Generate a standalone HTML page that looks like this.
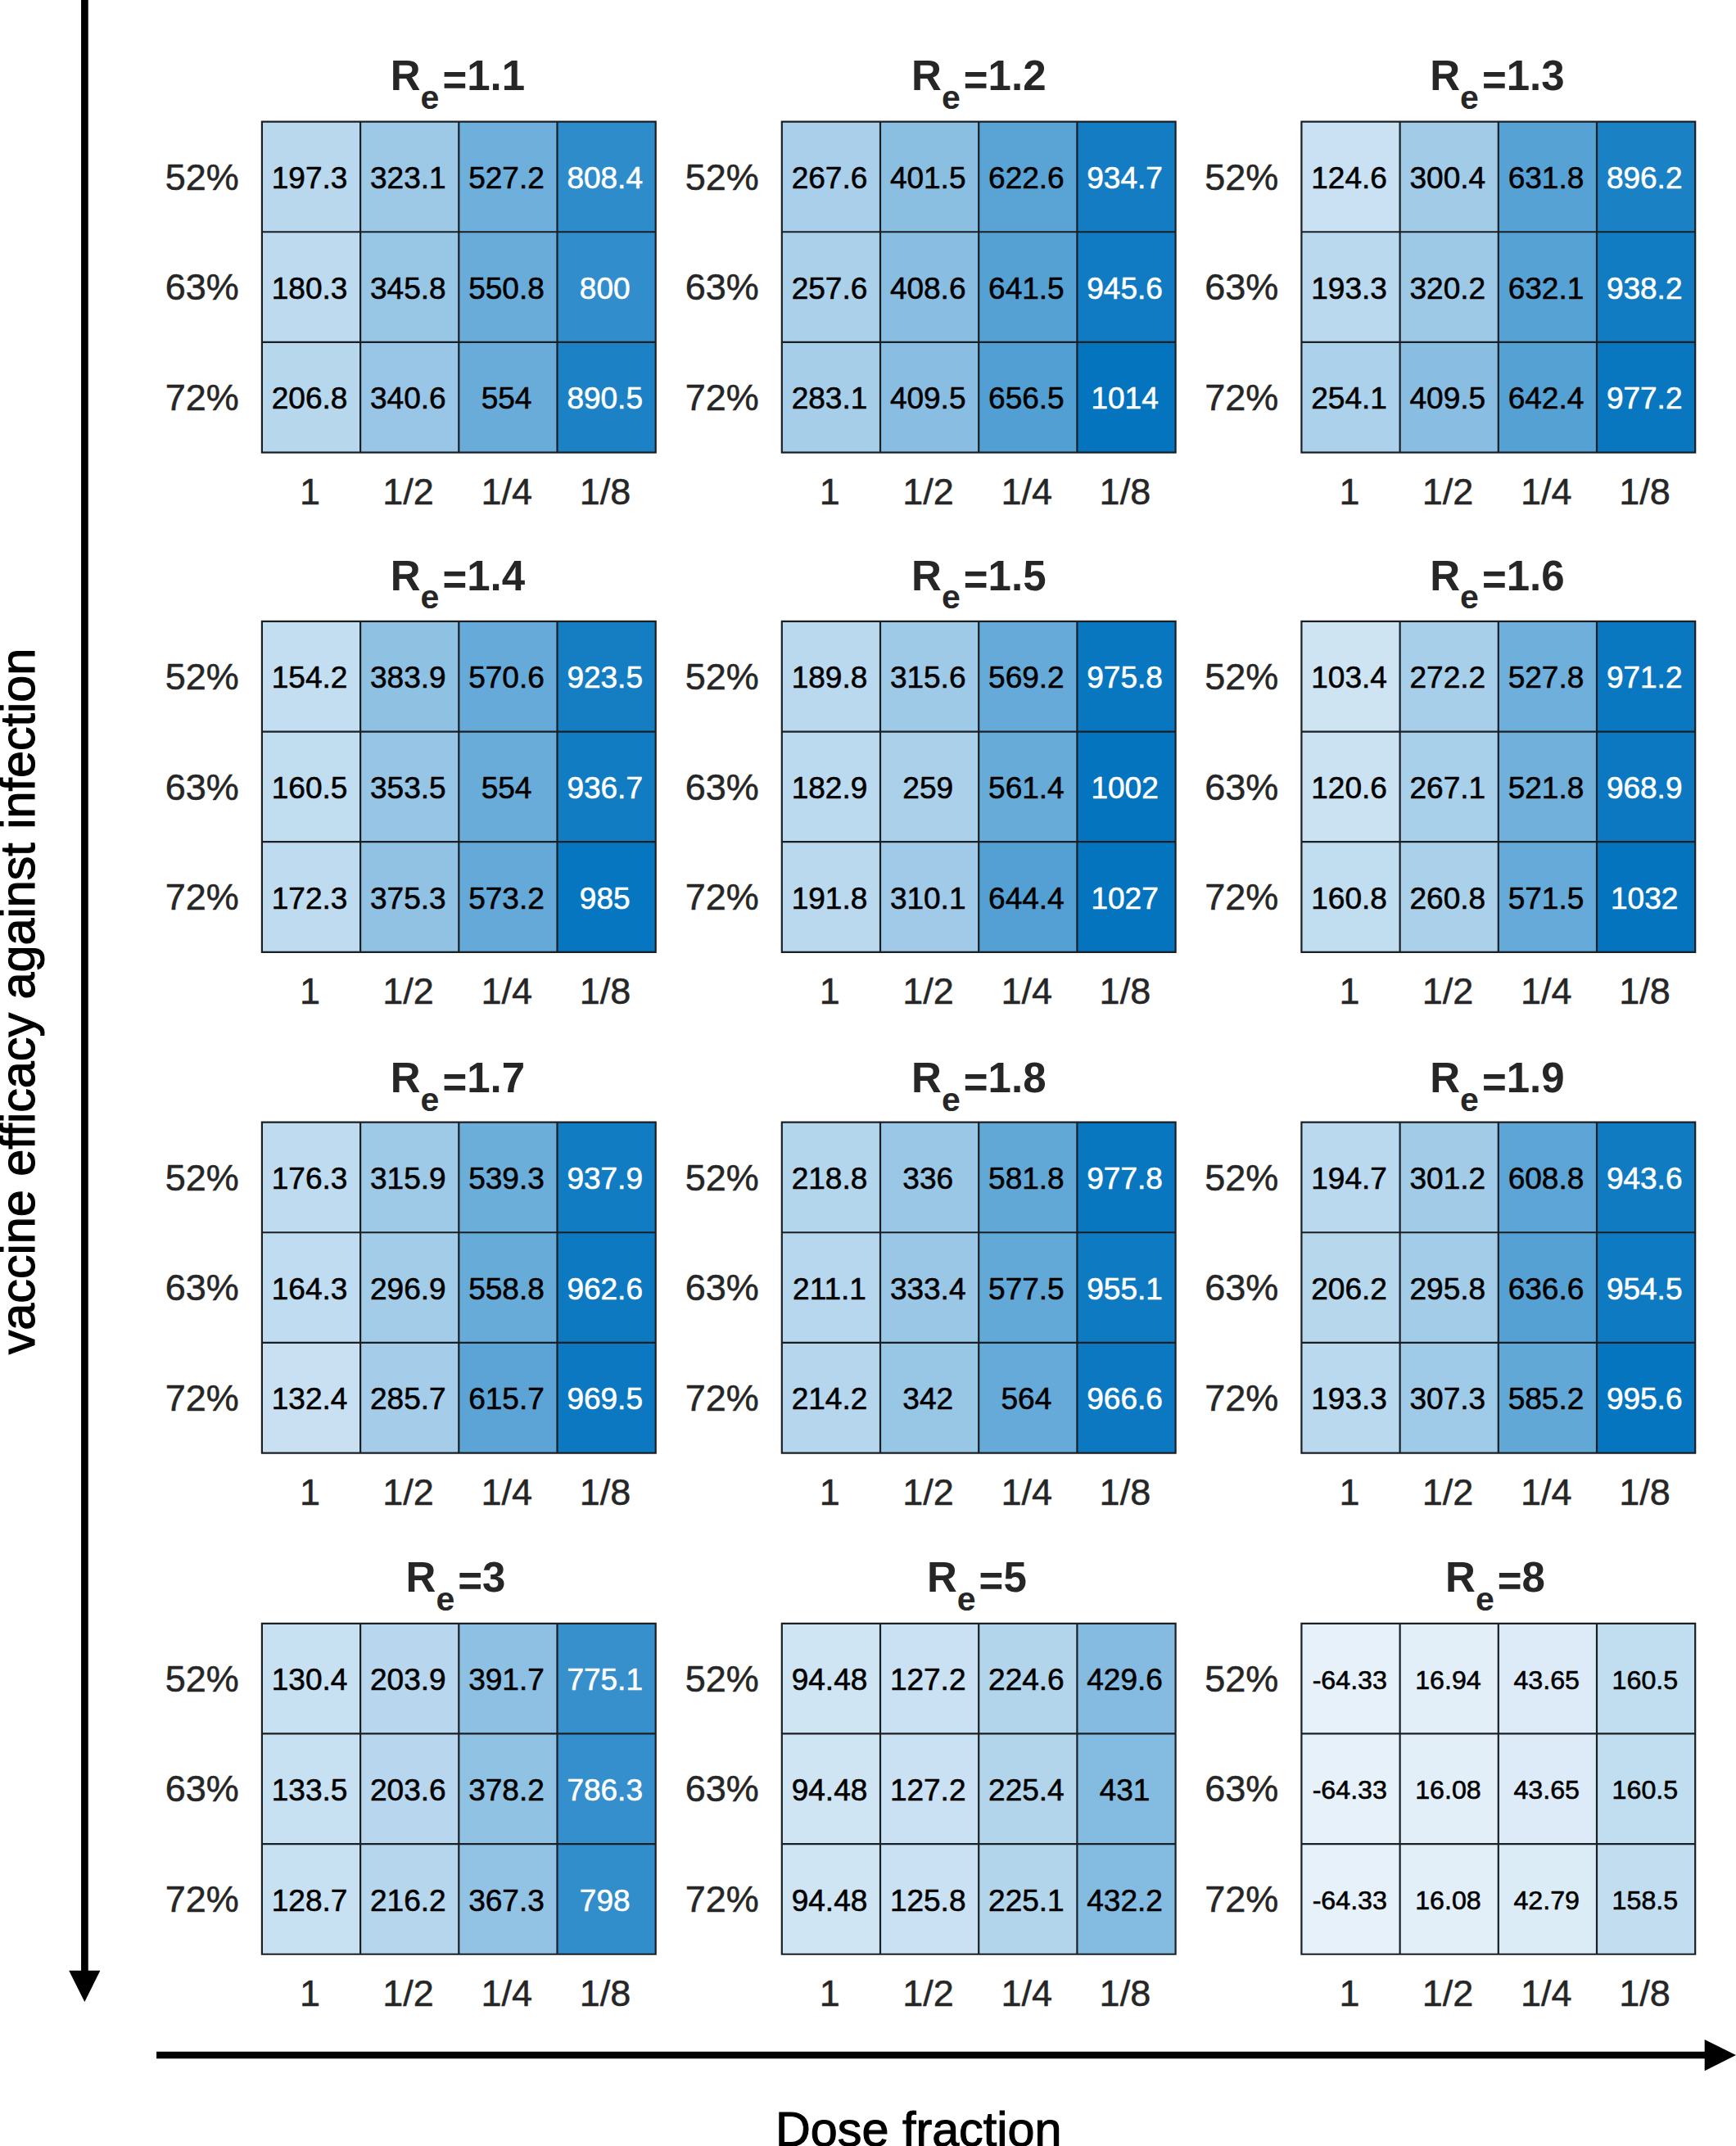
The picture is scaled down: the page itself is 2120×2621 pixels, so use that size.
<!DOCTYPE html>
<html lang="en"><head><meta charset="utf-8"><title>Heatmaps</title>
<style>html,body{margin:0;padding:0;background:#fff}body{width:2120px;height:2621px;overflow:hidden}svg{display:block}text{font-family:"Liberation Sans",sans-serif}.c{font-size:37px;text-anchor:middle;fill:#000;stroke:#000;stroke-width:.6px}.w{fill:#fff;stroke:#fff}.s{font-size:32.2px}.t{font-size:45px;fill:#262626;stroke:#262626;stroke-width:.5px}.x{text-anchor:middle}.y{text-anchor:end}.h{font-size:51px;font-weight:bold;fill:#262626}.a{fill:#000;stroke:#000;stroke-width:1.1px;text-anchor:middle}</style></head><body>
<svg width="2120" height="2621" viewBox="0 0 2120 2621">
<rect width="2120" height="2621" fill="#fff"/>
<g>
<rect x="319.90" y="148.60" width="120.20" height="134.65" fill="#b9d8ee"/>
<rect x="440.10" y="148.60" width="120.20" height="134.65" fill="#9dc9e7"/>
<rect x="560.30" y="148.60" width="120.20" height="134.65" fill="#6fafdb"/>
<rect x="680.50" y="148.60" width="120.20" height="134.65" fill="#2f8cca"/>
<rect x="319.90" y="283.25" width="120.20" height="134.65" fill="#bddaef"/>
<rect x="440.10" y="283.25" width="120.20" height="134.65" fill="#98c6e5"/>
<rect x="560.30" y="283.25" width="120.20" height="134.65" fill="#69acd9"/>
<rect x="680.50" y="283.25" width="120.20" height="134.65" fill="#318dcb"/>
<rect x="319.90" y="417.90" width="120.20" height="134.65" fill="#b7d7ed"/>
<rect x="440.10" y="417.90" width="120.20" height="134.65" fill="#99c6e6"/>
<rect x="560.30" y="417.90" width="120.20" height="134.65" fill="#69acd9"/>
<rect x="680.50" y="417.90" width="120.20" height="134.65" fill="#1d82c5"/>
<path d="M319.90 147.60V553.55M440.10 147.60V553.55M560.30 147.60V553.55M680.50 147.60V553.55M800.70 147.60V553.55M318.90 148.60H801.70M318.90 283.25H801.70M318.90 417.90H801.70M318.90 552.55H801.70" stroke="#1a1f24" stroke-width="2.2" fill="none"/>
<text class="c" x="378.10" y="230.17">197.3</text>
<text class="c" x="498.30" y="230.17">323.1</text>
<text class="c" x="618.50" y="230.17">527.2</text>
<text class="c w" x="738.70" y="230.17">808.4</text>
<text class="c" x="378.10" y="364.82">180.3</text>
<text class="c" x="498.30" y="364.82">345.8</text>
<text class="c" x="618.50" y="364.82">550.8</text>
<text class="c w" x="738.70" y="364.82">800</text>
<text class="c" x="378.10" y="499.47">206.8</text>
<text class="c" x="498.30" y="499.47">340.6</text>
<text class="c" x="618.50" y="499.47">554</text>
<text class="c w" x="738.70" y="499.47">890.5</text>
<text class="t y" x="291.90" y="231.63">52%</text>
<text class="t y" x="291.90" y="366.29">63%</text>
<text class="t y" x="291.90" y="500.94">72%</text>
<text class="t x" x="378.40" y="616.15">1</text>
<text class="t x" x="498.60" y="616.15">1/2</text>
<text class="t x" x="618.80" y="616.15">1/4</text>
<text class="t x" x="739.00" y="616.15">1/8</text>
<text class="h" y="110.20"><tspan x="476.70">R</tspan><tspan x="513.60" dy="22.9" font-size="41">e</tspan><tspan x="540.40" dy="-17.5">=</tspan><tspan dy="-5.4">1.1</tspan></text>
</g>
<g>
<rect x="954.80" y="148.60" width="120.20" height="134.65" fill="#a9cfea"/>
<rect x="1075.00" y="148.60" width="120.20" height="134.65" fill="#8bbfe2"/>
<rect x="1195.20" y="148.60" width="120.20" height="134.65" fill="#59a3d5"/>
<rect x="1315.40" y="148.60" width="120.20" height="134.65" fill="#137cc3"/>
<rect x="954.80" y="283.25" width="120.20" height="134.65" fill="#abd1ea"/>
<rect x="1075.00" y="283.25" width="120.20" height="134.65" fill="#89bee2"/>
<rect x="1195.20" y="283.25" width="120.20" height="134.65" fill="#55a1d4"/>
<rect x="1315.40" y="283.25" width="120.20" height="134.65" fill="#107bc2"/>
<rect x="954.80" y="417.90" width="120.20" height="134.65" fill="#a6cee9"/>
<rect x="1075.00" y="417.90" width="120.20" height="134.65" fill="#89bee2"/>
<rect x="1195.20" y="417.90" width="120.20" height="134.65" fill="#519fd3"/>
<rect x="1315.40" y="417.90" width="120.20" height="134.65" fill="#0474bf"/>
<path d="M954.80 147.60V553.55M1075.00 147.60V553.55M1195.20 147.60V553.55M1315.40 147.60V553.55M1435.60 147.60V553.55M953.80 148.60H1436.60M953.80 283.25H1436.60M953.80 417.90H1436.60M953.80 552.55H1436.60" stroke="#1a1f24" stroke-width="2.2" fill="none"/>
<text class="c" x="1013.00" y="230.17">267.6</text>
<text class="c" x="1133.20" y="230.17">401.5</text>
<text class="c" x="1253.40" y="230.17">622.6</text>
<text class="c w" x="1373.60" y="230.17">934.7</text>
<text class="c" x="1013.00" y="364.82">257.6</text>
<text class="c" x="1133.20" y="364.82">408.6</text>
<text class="c" x="1253.40" y="364.82">641.5</text>
<text class="c w" x="1373.60" y="364.82">945.6</text>
<text class="c" x="1013.00" y="499.47">283.1</text>
<text class="c" x="1133.20" y="499.47">409.5</text>
<text class="c" x="1253.40" y="499.47">656.5</text>
<text class="c w" x="1373.60" y="499.47">1014</text>
<text class="t y" x="926.80" y="231.63">52%</text>
<text class="t y" x="926.80" y="366.29">63%</text>
<text class="t y" x="926.80" y="500.94">72%</text>
<text class="t x" x="1013.30" y="616.15">1</text>
<text class="t x" x="1133.50" y="616.15">1/2</text>
<text class="t x" x="1253.70" y="616.15">1/4</text>
<text class="t x" x="1373.90" y="616.15">1/8</text>
<text class="h" y="110.20"><tspan x="1113.10">R</tspan><tspan x="1150.00" dy="22.9" font-size="41">e</tspan><tspan x="1176.80" dy="-17.5">=</tspan><tspan dy="-5.4">1.2</tspan></text>
</g>
<g>
<rect x="1589.40" y="148.60" width="120.20" height="134.65" fill="#c9e1f2"/>
<rect x="1709.60" y="148.60" width="120.20" height="134.65" fill="#a2cbe8"/>
<rect x="1829.80" y="148.60" width="120.20" height="134.65" fill="#57a2d5"/>
<rect x="1950.00" y="148.60" width="120.20" height="134.65" fill="#1b81c5"/>
<rect x="1589.40" y="283.25" width="120.20" height="134.65" fill="#bad9ee"/>
<rect x="1709.60" y="283.25" width="120.20" height="134.65" fill="#9dc9e7"/>
<rect x="1829.80" y="283.25" width="120.20" height="134.65" fill="#57a2d5"/>
<rect x="1950.00" y="283.25" width="120.20" height="134.65" fill="#127cc3"/>
<rect x="1589.40" y="417.90" width="120.20" height="134.65" fill="#acd1eb"/>
<rect x="1709.60" y="417.90" width="120.20" height="134.65" fill="#89bee2"/>
<rect x="1829.80" y="417.90" width="120.20" height="134.65" fill="#55a1d4"/>
<rect x="1950.00" y="417.90" width="120.20" height="134.65" fill="#0977c0"/>
<path d="M1589.40 147.60V553.55M1709.60 147.60V553.55M1829.80 147.60V553.55M1950.00 147.60V553.55M2070.20 147.60V553.55M1588.40 148.60H2071.20M1588.40 283.25H2071.20M1588.40 417.90H2071.20M1588.40 552.55H2071.20" stroke="#1a1f24" stroke-width="2.2" fill="none"/>
<text class="c" x="1647.60" y="230.17">124.6</text>
<text class="c" x="1767.80" y="230.17">300.4</text>
<text class="c" x="1888.00" y="230.17">631.8</text>
<text class="c w" x="2008.20" y="230.17">896.2</text>
<text class="c" x="1647.60" y="364.82">193.3</text>
<text class="c" x="1767.80" y="364.82">320.2</text>
<text class="c" x="1888.00" y="364.82">632.1</text>
<text class="c w" x="2008.20" y="364.82">938.2</text>
<text class="c" x="1647.60" y="499.47">254.1</text>
<text class="c" x="1767.80" y="499.47">409.5</text>
<text class="c" x="1888.00" y="499.47">642.4</text>
<text class="c w" x="2008.20" y="499.47">977.2</text>
<text class="t y" x="1561.40" y="231.63">52%</text>
<text class="t y" x="1561.40" y="366.29">63%</text>
<text class="t y" x="1561.40" y="500.94">72%</text>
<text class="t x" x="1647.90" y="616.15">1</text>
<text class="t x" x="1768.10" y="616.15">1/2</text>
<text class="t x" x="1888.30" y="616.15">1/4</text>
<text class="t x" x="2008.50" y="616.15">1/8</text>
<text class="h" y="110.20"><tspan x="1746.20">R</tspan><tspan x="1783.10" dy="22.9" font-size="41">e</tspan><tspan x="1809.90" dy="-17.5">=</tspan><tspan dy="-5.4">1.3</tspan></text>
</g>
<g>
<rect x="319.90" y="758.90" width="120.20" height="134.65" fill="#c3def0"/>
<rect x="440.10" y="758.90" width="120.20" height="134.65" fill="#8fc1e3"/>
<rect x="560.30" y="758.90" width="120.20" height="134.65" fill="#65aad8"/>
<rect x="680.50" y="758.90" width="120.20" height="134.65" fill="#157ec3"/>
<rect x="319.90" y="893.55" width="120.20" height="134.65" fill="#c1ddf0"/>
<rect x="440.10" y="893.55" width="120.20" height="134.65" fill="#96c5e5"/>
<rect x="560.30" y="893.55" width="120.20" height="134.65" fill="#69acd9"/>
<rect x="680.50" y="893.55" width="120.20" height="134.65" fill="#127cc3"/>
<rect x="319.90" y="1028.20" width="120.20" height="134.65" fill="#bfdbef"/>
<rect x="440.10" y="1028.20" width="120.20" height="134.65" fill="#91c2e4"/>
<rect x="560.30" y="1028.20" width="120.20" height="134.65" fill="#64a9d8"/>
<rect x="680.50" y="1028.20" width="120.20" height="134.65" fill="#0776c0"/>
<path d="M319.90 757.90V1163.85M440.10 757.90V1163.85M560.30 757.90V1163.85M680.50 757.90V1163.85M800.70 757.90V1163.85M318.90 758.90H801.70M318.90 893.55H801.70M318.90 1028.20H801.70M318.90 1162.85H801.70" stroke="#1a1f24" stroke-width="2.2" fill="none"/>
<text class="c" x="378.10" y="840.47">154.2</text>
<text class="c" x="498.30" y="840.47">383.9</text>
<text class="c" x="618.50" y="840.47">570.6</text>
<text class="c w" x="738.70" y="840.47">923.5</text>
<text class="c" x="378.10" y="975.12">160.5</text>
<text class="c" x="498.30" y="975.12">353.5</text>
<text class="c" x="618.50" y="975.12">554</text>
<text class="c w" x="738.70" y="975.12">936.7</text>
<text class="c" x="378.10" y="1109.77">172.3</text>
<text class="c" x="498.30" y="1109.77">375.3</text>
<text class="c" x="618.50" y="1109.77">573.2</text>
<text class="c w" x="738.70" y="1109.77">985</text>
<text class="t y" x="291.90" y="841.94">52%</text>
<text class="t y" x="291.90" y="976.59">63%</text>
<text class="t y" x="291.90" y="1111.23">72%</text>
<text class="t x" x="378.40" y="1226.45">1</text>
<text class="t x" x="498.60" y="1226.45">1/2</text>
<text class="t x" x="618.80" y="1226.45">1/4</text>
<text class="t x" x="739.00" y="1226.45">1/8</text>
<text class="h" y="720.50"><tspan x="476.70">R</tspan><tspan x="513.60" dy="22.9" font-size="41">e</tspan><tspan x="540.40" dy="-17.5">=</tspan><tspan dy="-5.4">1.4</tspan></text>
</g>
<g>
<rect x="954.80" y="758.90" width="120.20" height="134.65" fill="#bbd9ee"/>
<rect x="1075.00" y="758.90" width="120.20" height="134.65" fill="#9ec9e7"/>
<rect x="1195.20" y="758.90" width="120.20" height="134.65" fill="#65aad8"/>
<rect x="1315.40" y="758.90" width="120.20" height="134.65" fill="#0977c0"/>
<rect x="954.80" y="893.55" width="120.20" height="134.65" fill="#bcdaef"/>
<rect x="1075.00" y="893.55" width="120.20" height="134.65" fill="#abd1ea"/>
<rect x="1195.20" y="893.55" width="120.20" height="134.65" fill="#67abd9"/>
<rect x="1315.40" y="893.55" width="120.20" height="134.65" fill="#0474bf"/>
<rect x="954.80" y="1028.20" width="120.20" height="134.65" fill="#bad9ee"/>
<rect x="1075.00" y="1028.20" width="120.20" height="134.65" fill="#a0cae7"/>
<rect x="1195.20" y="1028.20" width="120.20" height="134.65" fill="#54a0d4"/>
<rect x="1315.40" y="1028.20" width="120.20" height="134.65" fill="#0474bf"/>
<path d="M954.80 757.90V1163.85M1075.00 757.90V1163.85M1195.20 757.90V1163.85M1315.40 757.90V1163.85M1435.60 757.90V1163.85M953.80 758.90H1436.60M953.80 893.55H1436.60M953.80 1028.20H1436.60M953.80 1162.85H1436.60" stroke="#1a1f24" stroke-width="2.2" fill="none"/>
<text class="c" x="1013.00" y="840.47">189.8</text>
<text class="c" x="1133.20" y="840.47">315.6</text>
<text class="c" x="1253.40" y="840.47">569.2</text>
<text class="c w" x="1373.60" y="840.47">975.8</text>
<text class="c" x="1013.00" y="975.12">182.9</text>
<text class="c" x="1133.20" y="975.12">259</text>
<text class="c" x="1253.40" y="975.12">561.4</text>
<text class="c w" x="1373.60" y="975.12">1002</text>
<text class="c" x="1013.00" y="1109.77">191.8</text>
<text class="c" x="1133.20" y="1109.77">310.1</text>
<text class="c" x="1253.40" y="1109.77">644.4</text>
<text class="c w" x="1373.60" y="1109.77">1027</text>
<text class="t y" x="926.80" y="841.94">52%</text>
<text class="t y" x="926.80" y="976.59">63%</text>
<text class="t y" x="926.80" y="1111.23">72%</text>
<text class="t x" x="1013.30" y="1226.45">1</text>
<text class="t x" x="1133.50" y="1226.45">1/2</text>
<text class="t x" x="1253.70" y="1226.45">1/4</text>
<text class="t x" x="1373.90" y="1226.45">1/8</text>
<text class="h" y="720.50"><tspan x="1113.10">R</tspan><tspan x="1150.00" dy="22.9" font-size="41">e</tspan><tspan x="1176.80" dy="-17.5">=</tspan><tspan dy="-5.4">1.5</tspan></text>
</g>
<g>
<rect x="1589.40" y="758.90" width="120.20" height="134.65" fill="#cee4f3"/>
<rect x="1709.60" y="758.90" width="120.20" height="134.65" fill="#a8cfea"/>
<rect x="1829.80" y="758.90" width="120.20" height="134.65" fill="#6eafdb"/>
<rect x="1950.00" y="758.90" width="120.20" height="134.65" fill="#0a78c1"/>
<rect x="1589.40" y="893.55" width="120.20" height="134.65" fill="#cae2f2"/>
<rect x="1709.60" y="893.55" width="120.20" height="134.65" fill="#a9d0ea"/>
<rect x="1829.80" y="893.55" width="120.20" height="134.65" fill="#70b0db"/>
<rect x="1950.00" y="893.55" width="120.20" height="134.65" fill="#0b78c1"/>
<rect x="1589.40" y="1028.20" width="120.20" height="134.65" fill="#c1ddf0"/>
<rect x="1709.60" y="1028.20" width="120.20" height="134.65" fill="#abd0ea"/>
<rect x="1829.80" y="1028.20" width="120.20" height="134.65" fill="#65aad8"/>
<rect x="1950.00" y="1028.20" width="120.20" height="134.65" fill="#0474bf"/>
<path d="M1589.40 757.90V1163.85M1709.60 757.90V1163.85M1829.80 757.90V1163.85M1950.00 757.90V1163.85M2070.20 757.90V1163.85M1588.40 758.90H2071.20M1588.40 893.55H2071.20M1588.40 1028.20H2071.20M1588.40 1162.85H2071.20" stroke="#1a1f24" stroke-width="2.2" fill="none"/>
<text class="c" x="1647.60" y="840.47">103.4</text>
<text class="c" x="1767.80" y="840.47">272.2</text>
<text class="c" x="1888.00" y="840.47">527.8</text>
<text class="c w" x="2008.20" y="840.47">971.2</text>
<text class="c" x="1647.60" y="975.12">120.6</text>
<text class="c" x="1767.80" y="975.12">267.1</text>
<text class="c" x="1888.00" y="975.12">521.8</text>
<text class="c w" x="2008.20" y="975.12">968.9</text>
<text class="c" x="1647.60" y="1109.77">160.8</text>
<text class="c" x="1767.80" y="1109.77">260.8</text>
<text class="c" x="1888.00" y="1109.77">571.5</text>
<text class="c w" x="2008.20" y="1109.77">1032</text>
<text class="t y" x="1561.40" y="841.94">52%</text>
<text class="t y" x="1561.40" y="976.59">63%</text>
<text class="t y" x="1561.40" y="1111.23">72%</text>
<text class="t x" x="1647.90" y="1226.45">1</text>
<text class="t x" x="1768.10" y="1226.45">1/2</text>
<text class="t x" x="1888.30" y="1226.45">1/4</text>
<text class="t x" x="2008.50" y="1226.45">1/8</text>
<text class="h" y="720.50"><tspan x="1746.20">R</tspan><tspan x="1783.10" dy="22.9" font-size="41">e</tspan><tspan x="1809.90" dy="-17.5">=</tspan><tspan dy="-5.4">1.6</tspan></text>
</g>
<g>
<rect x="319.90" y="1370.60" width="120.20" height="134.65" fill="#bedbef"/>
<rect x="440.10" y="1370.60" width="120.20" height="134.65" fill="#9ec9e7"/>
<rect x="560.30" y="1370.60" width="120.20" height="134.65" fill="#6caeda"/>
<rect x="680.50" y="1370.60" width="120.20" height="134.65" fill="#127cc3"/>
<rect x="319.90" y="1505.25" width="120.20" height="134.65" fill="#c0dcf0"/>
<rect x="440.10" y="1505.25" width="120.20" height="134.65" fill="#a3cce8"/>
<rect x="560.30" y="1505.25" width="120.20" height="134.65" fill="#67abd9"/>
<rect x="680.50" y="1505.25" width="120.20" height="134.65" fill="#0c79c1"/>
<rect x="319.90" y="1639.90" width="120.20" height="134.65" fill="#c8e0f2"/>
<rect x="440.10" y="1639.90" width="120.20" height="134.65" fill="#a5cde9"/>
<rect x="560.30" y="1639.90" width="120.20" height="134.65" fill="#5ba4d5"/>
<rect x="680.50" y="1639.90" width="120.20" height="134.65" fill="#0b78c1"/>
<path d="M319.90 1369.60V1775.55M440.10 1369.60V1775.55M560.30 1369.60V1775.55M680.50 1369.60V1775.55M800.70 1369.60V1775.55M318.90 1370.60H801.70M318.90 1505.25H801.70M318.90 1639.90H801.70M318.90 1774.55H801.70" stroke="#1a1f24" stroke-width="2.2" fill="none"/>
<text class="c" x="378.10" y="1452.17">176.3</text>
<text class="c" x="498.30" y="1452.17">315.9</text>
<text class="c" x="618.50" y="1452.17">539.3</text>
<text class="c w" x="738.70" y="1452.17">937.9</text>
<text class="c" x="378.10" y="1586.82">164.3</text>
<text class="c" x="498.30" y="1586.82">296.9</text>
<text class="c" x="618.50" y="1586.82">558.8</text>
<text class="c w" x="738.70" y="1586.82">962.6</text>
<text class="c" x="378.10" y="1721.47">132.4</text>
<text class="c" x="498.30" y="1721.47">285.7</text>
<text class="c" x="618.50" y="1721.47">615.7</text>
<text class="c w" x="738.70" y="1721.47">969.5</text>
<text class="t y" x="291.90" y="1453.63">52%</text>
<text class="t y" x="291.90" y="1588.28">63%</text>
<text class="t y" x="291.90" y="1722.93">72%</text>
<text class="t x" x="378.40" y="1838.15">1</text>
<text class="t x" x="498.60" y="1838.15">1/2</text>
<text class="t x" x="618.80" y="1838.15">1/4</text>
<text class="t x" x="739.00" y="1838.15">1/8</text>
<text class="h" y="1334.10"><tspan x="476.70">R</tspan><tspan x="513.60" dy="22.9" font-size="41">e</tspan><tspan x="540.40" dy="-17.5">=</tspan><tspan dy="-5.4">1.7</tspan></text>
</g>
<g>
<rect x="954.80" y="1370.60" width="120.20" height="134.65" fill="#b4d6ed"/>
<rect x="1075.00" y="1370.60" width="120.20" height="134.65" fill="#9ac7e6"/>
<rect x="1195.20" y="1370.60" width="120.20" height="134.65" fill="#62a8d7"/>
<rect x="1315.40" y="1370.60" width="120.20" height="134.65" fill="#0977c0"/>
<rect x="954.80" y="1505.25" width="120.20" height="134.65" fill="#b6d7ed"/>
<rect x="1075.00" y="1505.25" width="120.20" height="134.65" fill="#9ac7e6"/>
<rect x="1195.20" y="1505.25" width="120.20" height="134.65" fill="#63a9d8"/>
<rect x="1315.40" y="1505.25" width="120.20" height="134.65" fill="#0e7ac2"/>
<rect x="954.80" y="1639.90" width="120.20" height="134.65" fill="#b5d6ed"/>
<rect x="1075.00" y="1639.90" width="120.20" height="134.65" fill="#98c6e5"/>
<rect x="1195.20" y="1639.90" width="120.20" height="134.65" fill="#66aad9"/>
<rect x="1315.40" y="1639.90" width="120.20" height="134.65" fill="#0c78c1"/>
<path d="M954.80 1369.60V1775.55M1075.00 1369.60V1775.55M1195.20 1369.60V1775.55M1315.40 1369.60V1775.55M1435.60 1369.60V1775.55M953.80 1370.60H1436.60M953.80 1505.25H1436.60M953.80 1639.90H1436.60M953.80 1774.55H1436.60" stroke="#1a1f24" stroke-width="2.2" fill="none"/>
<text class="c" x="1013.00" y="1452.17">218.8</text>
<text class="c" x="1133.20" y="1452.17">336</text>
<text class="c" x="1253.40" y="1452.17">581.8</text>
<text class="c w" x="1373.60" y="1452.17">977.8</text>
<text class="c" x="1013.00" y="1586.82">211.1</text>
<text class="c" x="1133.20" y="1586.82">333.4</text>
<text class="c" x="1253.40" y="1586.82">577.5</text>
<text class="c w" x="1373.60" y="1586.82">955.1</text>
<text class="c" x="1013.00" y="1721.47">214.2</text>
<text class="c" x="1133.20" y="1721.47">342</text>
<text class="c" x="1253.40" y="1721.47">564</text>
<text class="c w" x="1373.60" y="1721.47">966.6</text>
<text class="t y" x="926.80" y="1453.63">52%</text>
<text class="t y" x="926.80" y="1588.28">63%</text>
<text class="t y" x="926.80" y="1722.93">72%</text>
<text class="t x" x="1013.30" y="1838.15">1</text>
<text class="t x" x="1133.50" y="1838.15">1/2</text>
<text class="t x" x="1253.70" y="1838.15">1/4</text>
<text class="t x" x="1373.90" y="1838.15">1/8</text>
<text class="h" y="1334.10"><tspan x="1113.10">R</tspan><tspan x="1150.00" dy="22.9" font-size="41">e</tspan><tspan x="1176.80" dy="-17.5">=</tspan><tspan dy="-5.4">1.8</tspan></text>
</g>
<g>
<rect x="1589.40" y="1370.60" width="120.20" height="134.65" fill="#bad9ee"/>
<rect x="1709.60" y="1370.60" width="120.20" height="134.65" fill="#a2cbe8"/>
<rect x="1829.80" y="1370.60" width="120.20" height="134.65" fill="#5ca5d6"/>
<rect x="1950.00" y="1370.60" width="120.20" height="134.65" fill="#117bc2"/>
<rect x="1589.40" y="1505.25" width="120.20" height="134.65" fill="#b7d7ed"/>
<rect x="1709.60" y="1505.25" width="120.20" height="134.65" fill="#a3cce8"/>
<rect x="1829.80" y="1505.25" width="120.20" height="134.65" fill="#56a1d4"/>
<rect x="1950.00" y="1505.25" width="120.20" height="134.65" fill="#0e7ac2"/>
<rect x="1589.40" y="1639.90" width="120.20" height="134.65" fill="#bad9ee"/>
<rect x="1709.60" y="1639.90" width="120.20" height="134.65" fill="#a0cbe8"/>
<rect x="1829.80" y="1639.90" width="120.20" height="134.65" fill="#62a8d7"/>
<rect x="1950.00" y="1639.90" width="120.20" height="134.65" fill="#0575bf"/>
<path d="M1589.40 1369.60V1775.55M1709.60 1369.60V1775.55M1829.80 1369.60V1775.55M1950.00 1369.60V1775.55M2070.20 1369.60V1775.55M1588.40 1370.60H2071.20M1588.40 1505.25H2071.20M1588.40 1639.90H2071.20M1588.40 1774.55H2071.20" stroke="#1a1f24" stroke-width="2.2" fill="none"/>
<text class="c" x="1647.60" y="1452.17">194.7</text>
<text class="c" x="1767.80" y="1452.17">301.2</text>
<text class="c" x="1888.00" y="1452.17">608.8</text>
<text class="c w" x="2008.20" y="1452.17">943.6</text>
<text class="c" x="1647.60" y="1586.82">206.2</text>
<text class="c" x="1767.80" y="1586.82">295.8</text>
<text class="c" x="1888.00" y="1586.82">636.6</text>
<text class="c w" x="2008.20" y="1586.82">954.5</text>
<text class="c" x="1647.60" y="1721.47">193.3</text>
<text class="c" x="1767.80" y="1721.47">307.3</text>
<text class="c" x="1888.00" y="1721.47">585.2</text>
<text class="c w" x="2008.20" y="1721.47">995.6</text>
<text class="t y" x="1561.40" y="1453.63">52%</text>
<text class="t y" x="1561.40" y="1588.28">63%</text>
<text class="t y" x="1561.40" y="1722.93">72%</text>
<text class="t x" x="1647.90" y="1838.15">1</text>
<text class="t x" x="1768.10" y="1838.15">1/2</text>
<text class="t x" x="1888.30" y="1838.15">1/4</text>
<text class="t x" x="2008.50" y="1838.15">1/8</text>
<text class="h" y="1334.10"><tspan x="1746.20">R</tspan><tspan x="1783.10" dy="22.9" font-size="41">e</tspan><tspan x="1809.90" dy="-17.5">=</tspan><tspan dy="-5.4">1.9</tspan></text>
</g>
<g>
<rect x="319.90" y="1982.80" width="120.20" height="134.65" fill="#c8e1f2"/>
<rect x="440.10" y="1982.80" width="120.20" height="134.65" fill="#b8d7ee"/>
<rect x="560.30" y="1982.80" width="120.20" height="134.65" fill="#8dc0e3"/>
<rect x="680.50" y="1982.80" width="120.20" height="134.65" fill="#3790cc"/>
<rect x="319.90" y="2117.45" width="120.20" height="134.65" fill="#c7e0f2"/>
<rect x="440.10" y="2117.45" width="120.20" height="134.65" fill="#b8d7ee"/>
<rect x="560.30" y="2117.45" width="120.20" height="134.65" fill="#90c2e3"/>
<rect x="680.50" y="2117.45" width="120.20" height="134.65" fill="#348fcc"/>
<rect x="319.90" y="2252.10" width="120.20" height="134.65" fill="#c8e1f2"/>
<rect x="440.10" y="2252.10" width="120.20" height="134.65" fill="#b5d6ed"/>
<rect x="560.30" y="2252.10" width="120.20" height="134.65" fill="#93c3e4"/>
<rect x="680.50" y="2252.10" width="120.20" height="134.65" fill="#328dcb"/>
<path d="M319.90 1981.80V2387.75M440.10 1981.80V2387.75M560.30 1981.80V2387.75M680.50 1981.80V2387.75M800.70 1981.80V2387.75M318.90 1982.80H801.70M318.90 2117.45H801.70M318.90 2252.10H801.70M318.90 2386.75H801.70" stroke="#1a1f24" stroke-width="2.2" fill="none"/>
<text class="c" x="378.10" y="2064.37">130.4</text>
<text class="c" x="498.30" y="2064.37">203.9</text>
<text class="c" x="618.50" y="2064.37">391.7</text>
<text class="c w" x="738.70" y="2064.37">775.1</text>
<text class="c" x="378.10" y="2199.02">133.5</text>
<text class="c" x="498.30" y="2199.02">203.6</text>
<text class="c" x="618.50" y="2199.02">378.2</text>
<text class="c w" x="738.70" y="2199.02">786.3</text>
<text class="c" x="378.10" y="2333.67">128.7</text>
<text class="c" x="498.30" y="2333.67">216.2</text>
<text class="c" x="618.50" y="2333.67">367.3</text>
<text class="c w" x="738.70" y="2333.67">798</text>
<text class="t y" x="291.90" y="2065.84">52%</text>
<text class="t y" x="291.90" y="2200.49">63%</text>
<text class="t y" x="291.90" y="2335.14">72%</text>
<text class="t x" x="378.40" y="2450.35">1</text>
<text class="t x" x="498.60" y="2450.35">1/2</text>
<text class="t x" x="618.80" y="2450.35">1/4</text>
<text class="t x" x="739.00" y="2450.35">1/8</text>
<text class="h" y="1943.90"><tspan x="495.50">R</tspan><tspan x="532.40" dy="22.9" font-size="41">e</tspan><tspan x="559.20" dy="-17.5">=</tspan><tspan dy="-5.4">3</tspan></text>
</g>
<g>
<rect x="954.80" y="1982.80" width="120.20" height="134.65" fill="#d0e5f4"/>
<rect x="1075.00" y="1982.80" width="120.20" height="134.65" fill="#c9e1f2"/>
<rect x="1195.20" y="1982.80" width="120.20" height="134.65" fill="#b3d5ec"/>
<rect x="1315.40" y="1982.80" width="120.20" height="134.65" fill="#85bbe0"/>
<rect x="954.80" y="2117.45" width="120.20" height="134.65" fill="#d0e5f4"/>
<rect x="1075.00" y="2117.45" width="120.20" height="134.65" fill="#c9e1f2"/>
<rect x="1195.20" y="2117.45" width="120.20" height="134.65" fill="#b3d5ec"/>
<rect x="1315.40" y="2117.45" width="120.20" height="134.65" fill="#84bbe0"/>
<rect x="954.80" y="2252.10" width="120.20" height="134.65" fill="#d0e5f4"/>
<rect x="1075.00" y="2252.10" width="120.20" height="134.65" fill="#c9e1f2"/>
<rect x="1195.20" y="2252.10" width="120.20" height="134.65" fill="#b3d5ec"/>
<rect x="1315.40" y="2252.10" width="120.20" height="134.65" fill="#84bbe0"/>
<path d="M954.80 1981.80V2387.75M1075.00 1981.80V2387.75M1195.20 1981.80V2387.75M1315.40 1981.80V2387.75M1435.60 1981.80V2387.75M953.80 1982.80H1436.60M953.80 2117.45H1436.60M953.80 2252.10H1436.60M953.80 2386.75H1436.60" stroke="#1a1f24" stroke-width="2.2" fill="none"/>
<text class="c" x="1013.00" y="2064.37">94.48</text>
<text class="c" x="1133.20" y="2064.37">127.2</text>
<text class="c" x="1253.40" y="2064.37">224.6</text>
<text class="c" x="1373.60" y="2064.37">429.6</text>
<text class="c" x="1013.00" y="2199.02">94.48</text>
<text class="c" x="1133.20" y="2199.02">127.2</text>
<text class="c" x="1253.40" y="2199.02">225.4</text>
<text class="c" x="1373.60" y="2199.02">431</text>
<text class="c" x="1013.00" y="2333.67">94.48</text>
<text class="c" x="1133.20" y="2333.67">125.8</text>
<text class="c" x="1253.40" y="2333.67">225.1</text>
<text class="c" x="1373.60" y="2333.67">432.2</text>
<text class="t y" x="926.80" y="2065.84">52%</text>
<text class="t y" x="926.80" y="2200.49">63%</text>
<text class="t y" x="926.80" y="2335.14">72%</text>
<text class="t x" x="1013.30" y="2450.35">1</text>
<text class="t x" x="1133.50" y="2450.35">1/2</text>
<text class="t x" x="1253.70" y="2450.35">1/4</text>
<text class="t x" x="1373.90" y="2450.35">1/8</text>
<text class="h" y="1943.90"><tspan x="1131.90">R</tspan><tspan x="1168.80" dy="22.9" font-size="41">e</tspan><tspan x="1195.60" dy="-17.5">=</tspan><tspan dy="-5.4">5</tspan></text>
</g>
<g>
<rect x="1589.40" y="1982.80" width="120.20" height="134.65" fill="#e6f1fa"/>
<rect x="1709.60" y="1982.80" width="120.20" height="134.65" fill="#e2eff9"/>
<rect x="1829.80" y="1982.80" width="120.20" height="134.65" fill="#dcebf7"/>
<rect x="1950.00" y="1982.80" width="120.20" height="134.65" fill="#c1ddf0"/>
<rect x="1589.40" y="2117.45" width="120.20" height="134.65" fill="#e6f1fa"/>
<rect x="1709.60" y="2117.45" width="120.20" height="134.65" fill="#e2eff9"/>
<rect x="1829.80" y="2117.45" width="120.20" height="134.65" fill="#dcebf7"/>
<rect x="1950.00" y="2117.45" width="120.20" height="134.65" fill="#c1ddf0"/>
<rect x="1589.40" y="2252.10" width="120.20" height="134.65" fill="#e6f1fa"/>
<rect x="1709.60" y="2252.10" width="120.20" height="134.65" fill="#e2eff9"/>
<rect x="1829.80" y="2252.10" width="120.20" height="134.65" fill="#dcecf7"/>
<rect x="1950.00" y="2252.10" width="120.20" height="134.65" fill="#c2ddf0"/>
<path d="M1589.40 1981.80V2387.75M1709.60 1981.80V2387.75M1829.80 1981.80V2387.75M1950.00 1981.80V2387.75M2070.20 1981.80V2387.75M1588.40 1982.80H2071.20M1588.40 2117.45H2071.20M1588.40 2252.10H2071.20M1588.40 2386.75H2071.20" stroke="#1a1f24" stroke-width="2.2" fill="none"/>
<text class="c s" x="1648.30" y="2062.65">-64.33</text>
<text class="c s" x="1768.50" y="2062.65">16.94</text>
<text class="c s" x="1888.70" y="2062.65">43.65</text>
<text class="c s" x="2008.90" y="2062.65">160.5</text>
<text class="c s" x="1648.30" y="2197.30">-64.33</text>
<text class="c s" x="1768.50" y="2197.30">16.08</text>
<text class="c s" x="1888.70" y="2197.30">43.65</text>
<text class="c s" x="2008.90" y="2197.30">160.5</text>
<text class="c s" x="1648.30" y="2331.95">-64.33</text>
<text class="c s" x="1768.50" y="2331.95">16.08</text>
<text class="c s" x="1888.70" y="2331.95">42.79</text>
<text class="c s" x="2008.90" y="2331.95">158.5</text>
<text class="t y" x="1561.40" y="2065.84">52%</text>
<text class="t y" x="1561.40" y="2200.49">63%</text>
<text class="t y" x="1561.40" y="2335.14">72%</text>
<text class="t x" x="1647.90" y="2450.35">1</text>
<text class="t x" x="1768.10" y="2450.35">1/2</text>
<text class="t x" x="1888.30" y="2450.35">1/4</text>
<text class="t x" x="2008.50" y="2450.35">1/8</text>
<text class="h" y="1943.90"><tspan x="1765.00">R</tspan><tspan x="1801.90" dy="22.9" font-size="41">e</tspan><tspan x="1828.70" dy="-17.5">=</tspan><tspan dy="-5.4">8</tspan></text>
</g>
<path d="M103.4 0V2410" stroke="#000" stroke-width="8.7" fill="none"/>
<path d="M84.2 2406.7H122.4L103.3 2445.1Z" fill="#000"/>
<path d="M191.1 2510H2085" stroke="#000" stroke-width="8.3" fill="none"/>
<path d="M2081.7 2491V2529.2L2120 2510.1Z" fill="#000"/>
<text class="a" x="1121.7" y="2620.5" font-size="59.3">Dose fraction</text>
<text class="a" font-size="59.3" transform="translate(41.8 1223.1) rotate(-90)">vaccine efficacy against infection</text>
</svg></body></html>
